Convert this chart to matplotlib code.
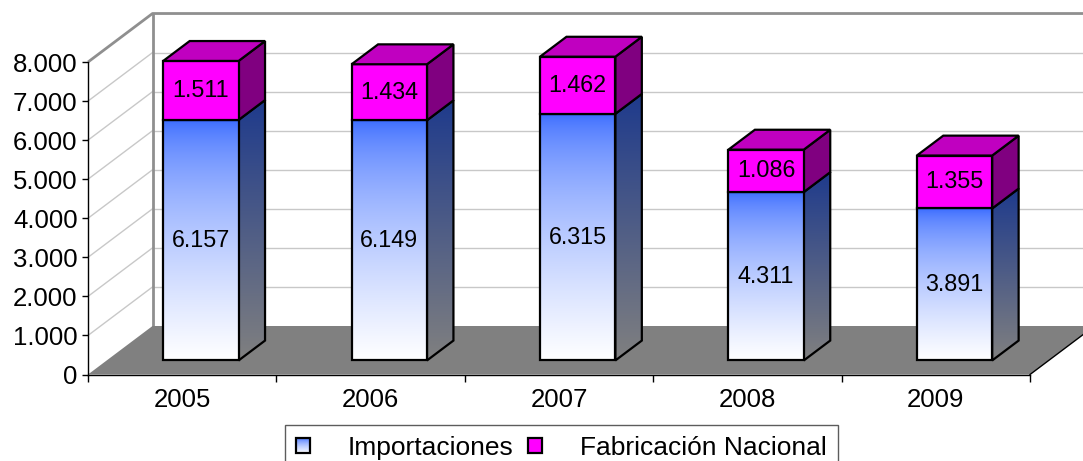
import numpy as np
import matplotlib
matplotlib.use('Agg')
import matplotlib.pyplot as plt
from matplotlib.patches import Polygon, Rectangle, Patch
from matplotlib.legend_handler import HandlerBase
from matplotlib.ticker import FuncFormatter
from matplotlib.colors import to_rgb

# ---------------- data ----------------
years = ['2005', '2006', '2007', '2008', '2009']
importaciones = [6157, 6149, 6315, 4311, 3891]
fabricacion = [1511, 1434, 1462, 1086, 1355]
series_names = ['Importaciones', 'Fabricación Nacional']
y_ticks = [0, 1000, 2000, 3000, 4000, 5000, 6000, 7000, 8000]

plt.rcParams['font.family'] = ['Liberation Sans', 'DejaVu Sans']

W, H = 1083, 461
fig = plt.figure(figsize=(W / 100, H / 100), dpi=100)
ax = fig.add_axes([0, 0, 1, 1])
ax.set_autoscale_on(False)
XMIN, XMAX = -0.4671, 5.2813
YMIN, YMAX = -2214, 9588
ax.set_xlim(XMIN, XMAX)
ax.set_ylim(YMIN, YMAX)
ax.patch.set_visible(False)

N = len(years)
VMAX = y_ticks[-1]
DX, DY = 0.3424, 1242          # oblique depth offset (category units, value units)
BW = 0.40                      # bar width (category units)
F0, F1 = 0.29, 0.70            # bar front / back depth fraction

fmt = lambda v: f"{int(round(v)):,}".replace(',', '.')

# ---------------- walls ----------------
ax.add_patch(Polygon([(0, 0), (0, VMAX), (DX, VMAX + DY), (DX, DY)],
                     fc='white', ec='none', zorder=0))
ax.add_patch(Polygon([(DX, DY), (N + DX, DY), (N + DX, VMAX + DY), (DX, VMAX + DY)],
                     fc='white', ec='none', zorder=0))
grid_c = '#C8C8C8'
for v in y_ticks[1:-1]:
    ax.plot([0, DX], [v, v + DY], color=grid_c, lw=1, zorder=1)
    ax.plot([DX, N + DX], [v + DY, v + DY], color=grid_c, lw=1, zorder=1)
wall_c = '#8F8F8F'
ax.plot([0, DX, N + DX], [VMAX, VMAX + DY, VMAX + DY], color=wall_c, lw=2, zorder=2,
        solid_capstyle='butt')
ax.plot([DX, DX], [DY, VMAX + DY], color=wall_c, lw=2, zorder=2)

# ---------------- floor ----------------
ax.add_patch(Polygon([(0, 0), (N, 0), (N + DX, DY), (DX, DY)],
                     fc='#808080', ec='none', zorder=3))
ax.plot([N, N + DX], [0, DY], color='black', lw=1, zorder=4)


# ---------------- bars ----------------
def grad_poly(pts, c_top, c_bot, gamma, z):
    xs = [p[0] for p in pts]
    ys = [p[1] for p in pts]
    n = 256
    t = np.linspace(0, 1, n) ** gamma
    ct, cb = np.array(to_rgb(c_top)), np.array(to_rgb(c_bot))
    img = ((1 - t)[:, None] * ct + t[:, None] * cb).reshape(n, 1, 3)
    im = ax.imshow(img, extent=(min(xs), max(xs), min(ys), max(ys)), origin='upper',
                   aspect='auto', zorder=z, interpolation='bilinear')
    poly = Polygon(pts, closed=True, fc='none', ec='black', lw=1.6, zorder=z + 0.01,
                   joinstyle='miter')
    ax.add_patch(poly)
    im.set_clip_path(poly)


def solid_poly(pts, color, z):
    ax.add_patch(Polygon(pts, closed=True, fc=color, ec='black', lw=1.6, zorder=z,
                         joinstyle='miter'))


def P(x, v, d):
    return (x + d * DX, v + d * DY)


for i in range(N):
    cx = i + 0.5
    x0, x1 = cx - BW / 2, cx + BW / 2
    z = 10 + i
    # Importaciones segment
    b, t = 0, importaciones[i]
    side = [P(x1, b, F0), P(x1, b, F1), P(x1, t, F1), P(x1, t, F0)]
    grad_poly(side, '#1E3A8C', '#808080', 1.0, z)
    front = [P(x0, b, F0), P(x1, b, F0), P(x1, t, F0), P(x0, t, F0)]
    grad_poly(front, '#3366FF', '#FFFFFF', 0.6, z + 0.1)
    ax.text(cx + F0 * DX, (b + t) / 2 + F0 * DY, fmt(importaciones[i]), ha='center',
            va='center', fontsize=16.8, zorder=z + 0.5)
    # Fabricación Nacional segment
    b, t = importaciones[i], importaciones[i] + fabricacion[i]
    side = [P(x1, b, F0), P(x1, b, F1), P(x1, t, F1), P(x1, t, F0)]
    solid_poly(side, '#800080', z + 0.2)
    front = [P(x0, b, F0), P(x1, b, F0), P(x1, t, F0), P(x0, t, F0)]
    solid_poly(front, '#FF00FF', z + 0.3)
    top = [P(x0, t, F0), P(x1, t, F0), P(x1, t, F1), P(x0, t, F1)]
    solid_poly(top, '#C000C0', z + 0.3)
    ax.text(cx + F0 * DX, (b + t) / 2 + F0 * DY, fmt(fabricacion[i]), ha='center',
            va='center', fontsize=16.8, zorder=z + 0.5)

# ---------------- axes ----------------
for s in ['top', 'right']:
    ax.spines[s].set_visible(False)
ax.spines['left'].set_position(('data', 0))
ax.spines['left'].set_bounds(0, VMAX)
ax.spines['bottom'].set_position(('data', 0))
ax.spines['bottom'].set_bounds(0, N)
for s in ['left', 'bottom']:
    ax.spines[s].set_zorder(20)
    ax.spines[s].set_linewidth(1)

ax.set_yticks(y_ticks)
ax.yaxis.set_major_formatter(FuncFormatter(lambda v, p: fmt(v)))
ax.tick_params(axis='y', which='major', direction='out', length=4.5, width=1, pad=3,
               labelsize=18.5)
ax.set_xticks(range(N + 1))
ax.set_xticklabels([])
ax.set_xticks([i + 0.5 for i in range(N)], minor=True)
ax.set_xticklabels(years, minor=True)
ax.tick_params(axis='x', which='major', direction='out', length=5, width=1)
ax.tick_params(axis='x', which='minor', length=0, pad=9.5, labelsize=18.5)
ax.set_xlim(XMIN, XMAX)
ax.set_ylim(YMIN, YMAX)


# ---------------- legend ----------------
class GradPatch(Patch):
    pass


class GradHandler(HandlerBase):
    def create_artists(self, legend, orig_handle, xdescent, ydescent, width, height,
                       fontsize, trans):
        n = 16
        ct, cb = np.array(to_rgb('#3366FF')), np.array(to_rgb('#FFFFFF'))
        arts = []
        for k in range(n):
            tt = (1 - (k + 0.5) / n) ** 0.6
            c = (1 - tt) * ct + tt * cb
            arts.append(Rectangle((-xdescent, -ydescent + height * k / n), width,
                                  height / n, fc=c, ec='none', transform=trans))
        arts.append(Rectangle((-xdescent, -ydescent), width, height, fc='none',
                              ec='black', lw=1.6, transform=trans))
        return arts


handles = [GradPatch(), Patch(fc='#FF00FF', ec='black', lw=1.6)]
leg = fig.legend(handles, series_names, handler_map={GradPatch: GradHandler()},
                 loc='upper left', bbox_to_anchor=(285 / W, 1 - 425 / H), ncol=2,
                 frameon=True, fancybox=False, edgecolor='#333333', fontsize=19,
                 handlelength=0.52, handleheight=0.52, handletextpad=1.45,
                 columnspacing=0.55, borderpad=0.42, borderaxespad=0)
leg.get_frame().set_linewidth(1)

fig.savefig('out.png', dpi=100)
